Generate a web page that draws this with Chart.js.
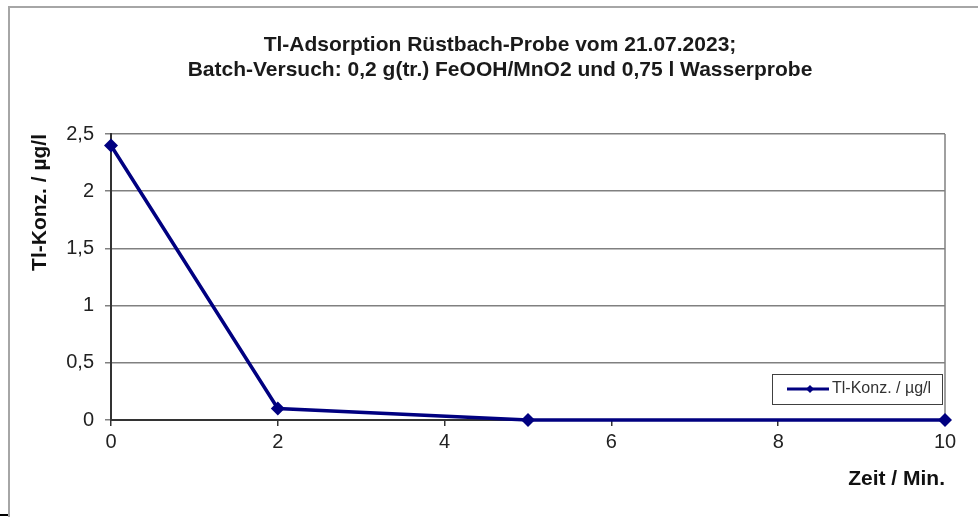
<!DOCTYPE html>
<html>
<head>
<meta charset="utf-8">
<script src="https://cdn.jsdelivr.net/npm/chart.js@4.4.0/dist/chart.umd.min.js"></script>
<style>
  html, body { margin: 0; padding: 0; overflow: hidden; background: #fff; width: 978px; height: 517px; }
  #frame { position: absolute; left: 8px; top: 6px; width: 1000px; height: 600px; border-top: 2px solid #a6a6a6; border-left: 2px solid #a6a6a6; }
  #mark { position: absolute; left: 0; top: 514px; width: 8px; height: 2px; background: #000; }
  #myChart { position: absolute; left: 8px; top: 0; }
</style>
</head>
<body>
<div id="frame"></div>
<div id="mark"></div>
<canvas id="myChart" width="984" height="517"></canvas>
<script>
// measurement times and concentrations
const zeitMin = [0, 2, 5, 10];
const tlKonz = [2.4, 0.1, 0, 0];
const titleLines = ['Tl-Adsorption Rüstbach-Probe vom 21.07.2023;', 'Batch-Versuch: 0,2 g(tr.) FeOOH/MnO2 und 0,75 l Wasserprobe'];
const seriesLabel = 'Tl-Konz. / µg/l';

const navy = '#000080';
const font = 'Liberation Sans, Arial, sans-serif';

// right border of the plot area + legend box inside the plot (bottom right)
const boxPlugin = {
    id: 'boxPlugin',
    beforeDatasetsDraw(chart) {
        const {ctx, chartArea} = chart;
        ctx.save();
        ctx.strokeStyle = '#808080';
        ctx.lineWidth = 1.5;
        ctx.beginPath();
        ctx.moveTo(chartArea.right, chartArea.top);
        ctx.lineTo(chartArea.right, chartArea.bottom);
        ctx.stroke();
        ctx.restore();
    },
    afterDatasetsDraw(chart) {
        const {ctx, chartArea} = chart;
        const w = 170, h = 30;
        const x = chartArea.right - 3 - w;
        const y = chartArea.bottom - 16 - h;
        ctx.save();
        ctx.fillStyle = '#fff';
        ctx.fillRect(x, y, w, h);
        ctx.strokeStyle = '#404040';
        ctx.lineWidth = 1;
        ctx.strokeRect(x + 0.5, y + 0.5, w, h);
        const cy = y + h / 2;
        ctx.strokeStyle = navy;
        ctx.lineWidth = 3;
        ctx.beginPath();
        ctx.moveTo(x + 15, cy);
        ctx.lineTo(x + 57, cy);
        ctx.stroke();
        ctx.fillStyle = navy;
        ctx.beginPath();
        const dx = x + 38, r = 4;
        ctx.moveTo(dx, cy - r);
        ctx.lineTo(dx + r, cy);
        ctx.lineTo(dx, cy + r);
        ctx.lineTo(dx - r, cy);
        ctx.closePath();
        ctx.fill();
        ctx.fillStyle = '#333';
        ctx.font = '16px ' + font;
        ctx.textBaseline = 'middle';
        ctx.fillText(chart.data.datasets[0].label, x + 60, cy);
        ctx.restore();
    }
};

const ctx = document.getElementById('myChart').getContext('2d');

const data = {
    datasets: [{
        label: seriesLabel,
        data: zeitMin.map((z, i) => ({x: z, y: tlKonz[i]})),
        borderColor: navy,
        backgroundColor: navy,
        borderWidth: 3.5,
        pointStyle: 'rectRot',
        pointRadius: 7,
        pointBorderWidth: 0,
        clip: false,
        tension: 0
    }]
};

const config = {
    type: 'line',
    data: data,
    options: {
        responsive: false,
        animation: false,
        devicePixelRatio: 1,
        layout: { padding: { left: 47, right: 47, top: 0, bottom: 0 } },
        plugins: {
            legend: { display: false },
            tooltip: { enabled: false },
            title: {
                display: true,
                text: titleLines,
                color: '#1a1a1a',
                font: { family: font, size: 21, weight: 'bold', lineHeight: 25 / 21 },
                padding: { top: 33, bottom: 51 }
            }
        },
        scales: {
            x: {
                type: 'linear',
                min: 0,
                max: 10,
                afterFit: (scale) => { scale.height = 97; },
                ticks: {
                    stepSize: 2,
                    color: '#222',
                    padding: 4,
                    font: { family: font, size: 20 }
                },
                grid: { drawOnChartArea: false, drawTicks: true, tickLength: 6, color: '#333', lineWidth: 1.5 },
                border: { color: '#333', width: 2 },
                title: {
                    display: true,
                    text: 'Zeit / Min.',
                    align: 'end',
                    color: '#111',
                    font: { family: font, size: 21, weight: 'bold' },
                    padding: { top: 0, bottom: 25 }
                }
            },
            y: {
                min: 0,
                max: 2.5,
                afterFit: (scale) => { scale.width = 56; },
                ticks: {
                    stepSize: 0.5,
                    color: '#222',
                    padding: 11,
                    font: { family: font, size: 20 },
                    callback: function(value) {
                        return String(value).replace('.', ',');
                    }
                },
                grid: { color: '#808080', lineWidth: 1.5, tickLength: 6 },
                border: { color: '#333', width: 2 },
                title: {
                    display: true,
                    text: 'Tl-Konz. / µg/l',
                    align: 'end',
                    color: '#111',
                    font: { family: font, size: 21, weight: 'bold' },
                    padding: { top: -27, bottom: 0 }
                }
            }
        }
    },
    plugins: [boxPlugin]
};

const myChart = new Chart(ctx, config);
</script>
</body>
</html>
